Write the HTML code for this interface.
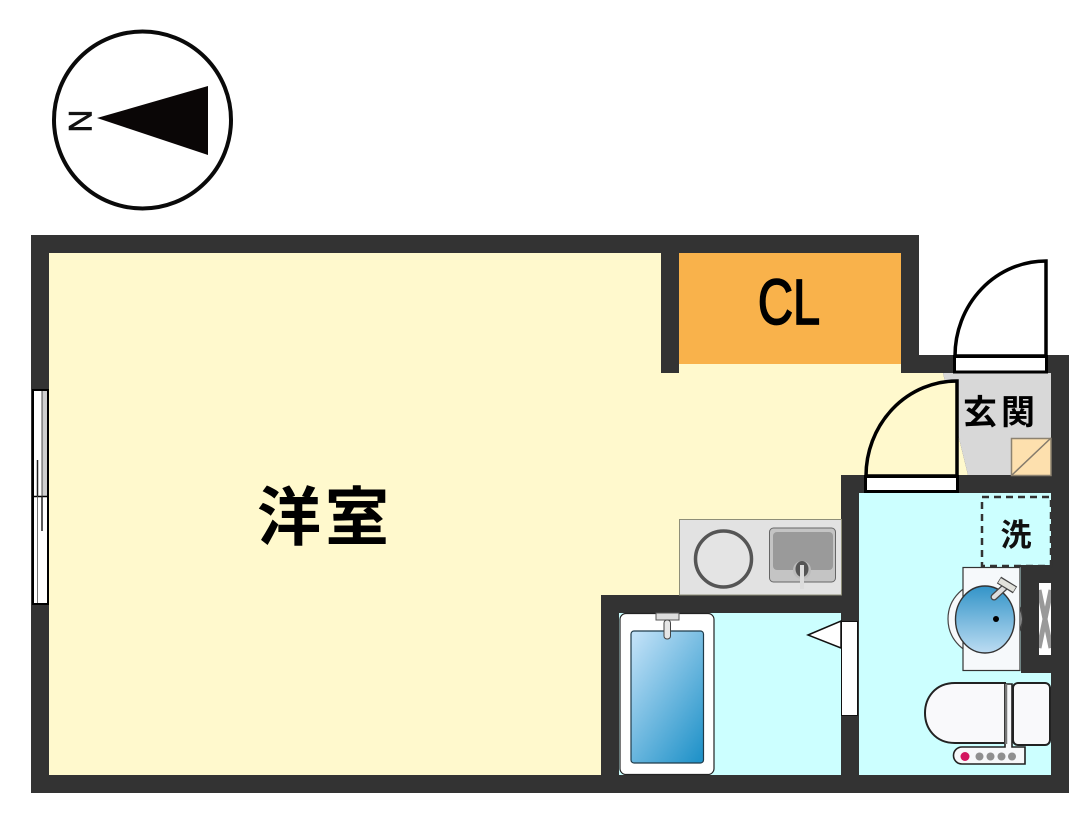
<!DOCTYPE html>
<html><head><meta charset="utf-8"><style>
html,body{margin:0;padding:0;background:#fff;width:1089px;height:813px;overflow:hidden}
svg{display:block}
text{font-family:"Liberation Sans","Noto Sans CJK JP",sans-serif}
</style></head><body>
<svg width="1089" height="813" viewBox="0 0 1089 813" xmlns="http://www.w3.org/2000/svg">
<defs>
<linearGradient id="tub" x1="0.1" y1="0" x2="0.9" y2="1"><stop offset="0" stop-color="#bfe0f7"/><stop offset="1" stop-color="#2293c9"/></linearGradient>
<linearGradient id="basin" x1="0" y1="0" x2="0" y2="1"><stop offset="0" stop-color="#3394c8"/><stop offset="1" stop-color="#bcdcf2"/></linearGradient>
<clipPath id="pipe"><rect x="1039" y="583" width="12" height="72"/></clipPath>
</defs>
<!-- compass -->
<circle cx="142.500" cy="120" r="88.500" fill="#fff" stroke="#0a0a0a" stroke-width="4"/>
<polygon points="97,118 208,86 208,155" fill="#0a0606"/>
<text transform="translate(69,121) rotate(90)" x="0" y="0" text-anchor="middle" font-size="32" fill="#111" stroke="#111" stroke-width=".6">N</text>
<!-- walls -->
<path d="M31 235H919V355H1069V793H31Z" fill="#333"/>
<!-- main room -->
<path d="M49 253H661V373H943L968 475H841V595H601V775H49Z" fill="#fff9cd"/>
<rect x="679" y="364" width="222" height="9" fill="#fff9cd"/>
<!-- CL -->
<rect x="679" y="253" width="222" height="111" fill="#f9b24b"/>
<text x="0" y="324" text-anchor="middle" font-size="64" fill="#000" stroke="#000" stroke-width="1.800" transform="translate(789 0) scale(.76 1)">CL</text>
<!-- genkan -->
<polygon points="943,373 1051,373 1051,475 968,475" fill="#d8d8d8"/>
<rect x="1011.500" y="438.500" width="39.500" height="37" fill="#fde0ae" stroke="#8c8270" stroke-width="1.500"/>
<line x1="1012" y1="475" x2="1051" y2="438" stroke="#857b6c" stroke-width="1.500"/>
<text x="1001" y="424" text-anchor="middle" font-size="34" font-weight="700" fill="#000" letter-spacing="4">玄関</text>
<!-- entry door -->
<path d="M955 356A91 95 0 0 1 1046 261V356Z" fill="#fff" stroke="#000" stroke-width="3.500"/>
<rect x="954.500" y="356.500" width="92" height="15.500" fill="#fff" stroke="#000" stroke-width="3"/>
<!-- interior door -->
<path d="M866 476A91 95 0 0 1 957 381V476Z" fill="#fff9cd" stroke="#000" stroke-width="3.500"/>
<rect x="865.500" y="476.500" width="92" height="15" fill="#fff" stroke="#000" stroke-width="3"/>
<!-- wash/toilet room -->
<rect x="859" y="493" width="192" height="282" fill="#ccffff"/>
<rect x="982" y="497" width="69" height="69" fill="none" stroke="#333" stroke-width="2.500" stroke-dasharray="7 5"/>
<text x="1016" y="546" text-anchor="middle" font-size="31" fill="#111" font-weight="700">洗</text>
<!-- wall stub with pipe space -->
<rect x="1021" y="565" width="30" height="108" fill="#333"/>
<rect x="1039" y="583" width="12" height="72" fill="#fff"/>
<g clip-path="url(#pipe)"><path d="M1039 590L1051 648M1051 590L1039 648" fill="none" stroke="#999" stroke-width="5"/></g>
<!-- basin -->
<circle cx="985" cy="619" r="37" fill="#f6f9fb" stroke="#444" stroke-width="1.200"/>
<rect x="963" y="567.500" width="57" height="103" fill="#f6f9fb" stroke="#333" stroke-width="1.200"/>
<rect x="964" y="590" width="10" height="58" fill="#f6f9fb"/>
<ellipse cx="985" cy="619.500" rx="29.500" ry="33.500" fill="url(#basin)" stroke="#333" stroke-width="1.400"/>
<circle cx="996" cy="619" r="3" fill="#000"/>
<line x1="1006" y1="586" x2="994" y2="597" stroke="#444" stroke-width="7" stroke-linecap="round"/>
<line x1="1006" y1="586" x2="994" y2="597" stroke="#ddd" stroke-width="4.500" stroke-linecap="round"/>
<line x1="999" y1="580" x2="1015" y2="590" stroke="#444" stroke-width="8"/>
<line x1="999.500" y1="580.500" x2="1014.500" y2="589.500" stroke="#e2e2dc" stroke-width="5.500"/>
<!-- toilet -->
<path d="M1005 684H1012V747H1025V764H962A8.500 8.500 0 0 1 962 747H1005Z" fill="#f7f8fa" stroke="#222" stroke-width="1.600"/>
<path d="M1005 683H955C935 683 925 698 925 713C925 728 935 743 955 743H1005Z" fill="#f9f9fb" stroke="#222" stroke-width="2"/>
<line x1="1006" y1="684" x2="1006" y2="744" stroke="#777" stroke-width="2.500"/>
<rect x="1013" y="683" width="37" height="62" rx="5" fill="#f9f9fb" stroke="#222" stroke-width="2"/>
<circle cx="965" cy="756.500" r="4.500" fill="#d3155f"/>
<circle cx="979.500" cy="756.500" r="4" fill="#8f8f8f"/><circle cx="990.500" cy="756.500" r="4" fill="#8f8f8f"/><circle cx="1001.500" cy="756.500" r="4" fill="#8f8f8f"/><circle cx="1012" cy="756.500" r="4" fill="#8f8f8f"/>
<!-- kitchen -->
<rect x="679.500" y="519.500" width="162" height="75.500" fill="#e2e2e2" stroke="#8e8e78" stroke-width="1"/>
<circle cx="723.500" cy="559" r="28" fill="#e4e4e4" stroke="#555" stroke-width="3.500"/>
<rect x="769.500" y="528" width="66" height="54" rx="4" fill="#c4c4c4" stroke="#666" stroke-width="1"/>
<rect x="773" y="532" width="60" height="38" rx="4" fill="#9a9a9a"/>
<circle cx="802" cy="570" r="9" fill="#bbb"/>
<ellipse cx="802" cy="569" rx="6.500" ry="8" fill="#555"/>
<rect x="800" y="565" width="4" height="24" fill="#dcdcdc"/>
<!-- bath room -->
<rect x="619" y="613" width="222" height="162" fill="#ccffff"/>
<rect x="620" y="613.500" width="94" height="161" rx="6" fill="#fff" stroke="#222" stroke-width="1.200"/>
<rect x="631" y="631" width="72.500" height="132" rx="3" fill="url(#tub)" stroke="#1f3b4a" stroke-width="1.200"/>
<rect x="656" y="613" width="23" height="7" fill="#ddd" stroke="#555" stroke-width="1"/>
<rect x="664" y="620" width="6.500" height="19" rx="3" fill="#e6e6e6" stroke="#444" stroke-width="1"/>
<!-- bath door -->
<polygon points="808,635 841,621 841,648" fill="#fff" stroke="#111" stroke-width="1.500"/>
<rect x="841.500" y="621.500" width="16" height="94" fill="#fff" stroke="#111" stroke-width="1"/>
<!-- window -->
<rect x="33" y="390" width="15" height="214" fill="#fff" stroke="#000" stroke-width="2"/>
<rect x="42" y="391" width="5" height="105" fill="#cfcfcf"/>
<line x1="33" y1="496.500" x2="48" y2="496.500" stroke="#000" stroke-width="1.500"/>
<line x1="37.500" y1="460" x2="37.500" y2="496" stroke="#222" stroke-width="1.500"/>
<line x1="42" y1="496" x2="42" y2="531" stroke="#222" stroke-width="1.500"/>
<line x1="42" y1="391" x2="42" y2="496" stroke="#222" stroke-width=".800"/>
<line x1="37.500" y1="496" x2="37.500" y2="603" stroke="#555" stroke-width=".800"/>
<!-- room label -->
<text x="325" y="540" text-anchor="middle" font-size="64" font-weight="700" fill="#000" letter-spacing="4">洋室</text>
</svg>
</body></html>
